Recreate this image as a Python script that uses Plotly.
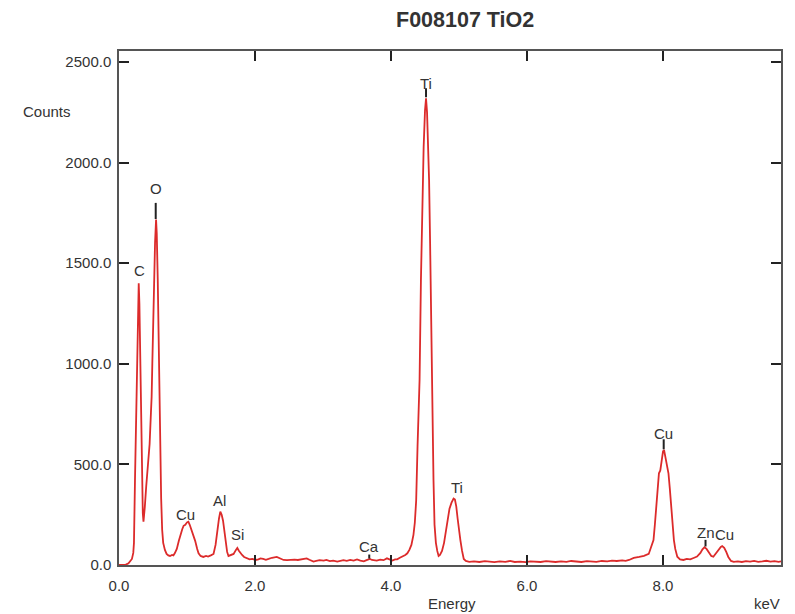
import plotly.graph_objects as go

# ---- data ----
energy_kev = [
    0.00, 0.05, 0.10, 0.14, 0.17, 0.19, 0.21, 0.22, 0.235, 0.25, 0.26, 0.275, 0.29, 0.30, 0.31,
    0.32, 0.33, 0.34, 0.35, 0.36, 0.37, 0.38, 0.40, 0.43, 0.45, 0.47, 0.48, 0.49, 0.505, 0.52,
    0.53, 0.545, 0.555, 0.57, 0.58, 0.59, 0.60, 0.61, 0.62, 0.635, 0.65, 0.675, 0.70, 0.725, 0.75,
    0.78, 0.80, 0.82, 0.85, 0.88, 0.91, 0.93, 0.95, 0.975, 1.00, 1.02, 1.04, 1.07, 1.10, 1.12,
    1.15, 1.17, 1.20, 1.24, 1.28, 1.31, 1.35, 1.39, 1.42, 1.44, 1.47, 1.49, 1.51, 1.53, 1.55,
    1.57, 1.59, 1.61, 1.64, 1.685, 1.72, 1.74, 1.76, 1.79, 1.81, 1.84, 1.88, 1.92, 1.96, 2.01,
    2.05, 2.08, 2.12, 2.16, 2.20, 2.25, 2.32, 2.37, 2.42, 2.47, 2.52, 2.58, 2.63, 2.68, 2.72,
    2.76, 2.80, 2.86, 2.90, 2.95, 3.01, 3.05, 3.10, 3.15, 3.21, 3.25, 3.30, 3.35, 3.40, 3.45,
    3.50, 3.55, 3.60, 3.64, 3.69, 3.72, 3.79, 3.84, 3.89, 3.94, 3.98, 4.02, 4.06, 4.09, 4.13,
    4.17, 4.21, 4.24, 4.27, 4.30, 4.33, 4.35, 4.37, 4.39, 4.41, 4.42, 4.44, 4.46, 4.48, 4.50,
    4.515, 4.53, 4.545, 4.56, 4.575, 4.585, 4.595, 4.61, 4.625, 4.64, 4.66, 4.68, 4.70, 4.72, 4.75,
    4.78, 4.81, 4.83, 4.86, 4.89, 4.92, 4.94, 4.96, 4.98, 5.00, 5.02, 5.045, 5.07, 5.10, 5.15,
    5.22, 5.30, 5.38, 5.45, 5.52, 5.60, 5.68, 5.75, 5.82, 5.90, 5.98, 6.05, 6.12, 6.20, 6.28,
    6.35, 6.42, 6.50, 6.58, 6.65, 6.72, 6.80, 6.88, 6.95, 7.02, 7.10, 7.18, 7.25, 7.32, 7.40,
    7.45, 7.50, 7.57, 7.65, 7.72, 7.79, 7.83, 7.86, 7.88, 7.90, 7.92, 7.94, 7.96, 7.98, 8.00,
    8.015, 8.03, 8.05, 8.08, 8.10, 8.12, 8.14, 8.16, 8.18, 8.21, 8.25, 8.30, 8.35, 8.40, 8.45,
    8.50, 8.55, 8.58, 8.61, 8.64, 8.68, 8.71, 8.74, 8.77, 8.81, 8.85, 8.87, 8.90, 8.93, 8.96,
    9.00, 9.04, 9.10, 9.16, 9.22, 9.28, 9.34, 9.40, 9.46, 9.52, 9.58, 9.64, 9.70, 9.74,
]
counts = [
    0, 0, 2, 8, 20, 30, 60, 110, 420, 700, 920, 1250, 1400, 1300, 1085,
    820, 588, 400, 258, 215, 240, 290, 390, 507, 600, 760, 836, 1000, 1252, 1480,
    1600, 1717, 1650, 1416, 1150, 920, 700, 505, 330, 174, 110, 75, 55, 48, 45,
    50, 48, 58, 80, 120, 160, 178, 195, 200, 212, 215, 200, 172, 140, 120,
    80, 58, 45, 40, 45, 42, 48, 55, 100, 157, 230, 265, 250, 220, 160,
    110, 65, 45, 48, 55, 75, 85, 72, 55, 50, 40, 33, 28, 30, 25,
    28, 33, 30, 26, 30, 36, 40, 33, 25, 24, 26, 27, 25, 28, 31,
    33, 26, 17, 20, 24, 22, 25, 19, 22, 17, 20, 24, 21, 25, 22,
    28, 22, 18, 24, 30, 25, 22, 27, 24, 33, 26, 22, 28, 28, 36,
    42, 50, 58, 75, 100, 150, 210, 320, 588, 820, 920, 1416, 1800, 2079, 2260,
    2320, 2250, 2100, 1913, 1600, 1333, 1000, 755, 420, 200, 110, 70, 45, 50, 70,
    110, 180, 230, 280, 310, 330, 325, 290, 230, 170, 124, 70, 30, 20, 16,
    18, 15, 19, 16, 14, 18, 16, 20, 15, 17, 14, 18, 16, 15, 19,
    17, 15, 18, 16, 20, 17, 15, 19, 18, 16, 20, 18, 22, 20, 23,
    21, 25, 35, 40, 45, 55, 90, 124, 200, 290, 380, 456, 470, 520, 565,
    572, 545, 510, 456, 380, 290, 200, 124, 80, 41, 28, 25, 30, 28, 35,
    42, 60, 78, 88, 80, 60, 45, 41, 55, 75, 90, 94, 85, 65, 40,
    20, 16, 18, 15, 19, 17, 20, 16, 18, 21, 17, 19, 16, 18,
]

# element labels: name, energy (keV), label height (counts)
label_names = ["C", "O", "Cu", "Al", "Si", "Ca", "Ti", "Ti", "Cu", "Zn", "Cu"]
label_x = [0.30, 0.54, 0.98, 1.48, 1.74, 3.68, 4.51, 4.97, 8.01, 8.63, 8.90]
label_y = [1465, 1870, 250, 320, 150, 90, 2395, 383, 656, 160, 150]

# short marker lines under some labels: energy, bottom, top (counts)
marker_x = [0.54, 4.515, 8.01, 8.625, 3.68]
marker_y0 = [1720, 2325, 575, 92, 32]
marker_y1 = [1800, 2370, 625, 125, 52]

x_ticks = [0.0, 2.0, 4.0, 6.0, 8.0]
y_ticks = [0.0, 500.0, 1000.0, 1500.0, 2000.0, 2500.0]

FONT = "Liberation Sans, Arial, sans-serif"
TXT = "#333333"

fig = go.Figure()
fig.add_trace(go.Scatter(
    x=energy_kev, y=counts, mode="lines",
    line=dict(color="#dc2b2b", width=1.8),
    showlegend=False, hoverinfo="skip",
))

for n, x, y in zip(label_names, label_x, label_y):
    fig.add_annotation(x=x, y=y, text=n, showarrow=False,
                       xanchor="center", yanchor="middle",
                       font=dict(family=FONT, size=15, color=TXT))

for x, y0, y1 in zip(marker_x, marker_y0, marker_y1):
    fig.add_shape(type="line", x0=x, x1=x, y0=y0, y1=y1, xref="x", yref="y",
                  line=dict(color="#222222", width=2))

axis_common = dict(
    showgrid=False, zeroline=False, showline=True, linecolor="#555555", linewidth=1.5,
    mirror="ticks", ticks="inside", ticklen=10, tickwidth=2, tickcolor="#222222",
    tickfont=dict(family=FONT, size=15, color=TXT),
)

fig.update_xaxes(range=[0, 9.735], tickvals=x_ticks,
                 ticktext=[f"{v:.1f}" for v in x_ticks], ticklabelstandoff=6,
                 **axis_common)
fig.update_yaxes(range=[0, 2555], tickvals=y_ticks,
                 ticktext=[f"{v:.1f}" for v in y_ticks], ticklabelstandoff=3,
                 **axis_common)

W, L, T, PH = 662, 119, 51, 514


def px(xp):
    return (xp - L) / W


def py(yp):
    return 1 - (yp - T) / PH


for txt, xp, yp, size in [("<b>F008107 TiO2</b>", 465, 20, 21.5),
                          ("Counts", 47, 111, 15),
                          ("Energy", 452, 603, 15),
                          ("keV", 767, 603, 15)]:
    fig.add_annotation(xref="paper", yref="paper", x=px(xp), y=py(yp),
                       xanchor="center", yanchor="middle",
                       text=txt, showarrow=False,
                       font=dict(family=FONT, size=size, color=TXT))

fig.update_layout(
    width=795, height=614,
    margin=dict(l=119, r=14, t=51, b=49),
    paper_bgcolor="white", plot_bgcolor="white",
)

fig.write_html("out.html", config={"displayModeBar": False},
               post_script="document.body.style.margin='0px';document.body.style.overflow='hidden';")
